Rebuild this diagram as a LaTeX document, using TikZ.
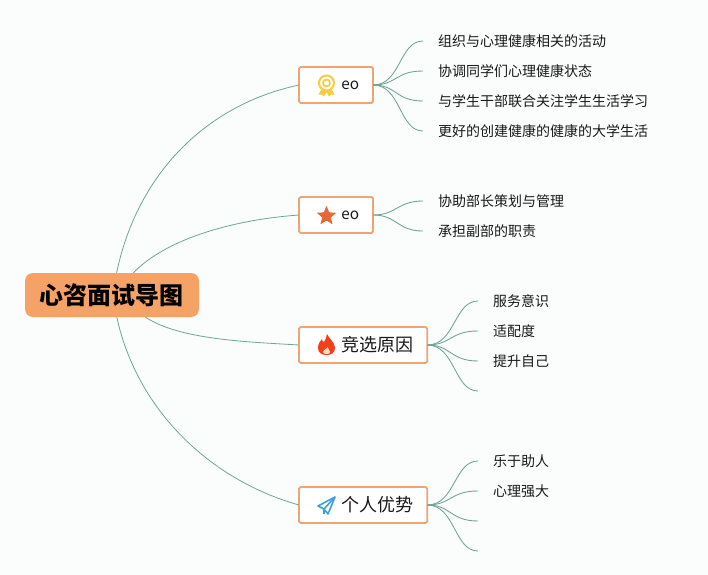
\documentclass[tikz,border=0pt]{standalone}
\usepackage{fontspec}
\setmainfont{Noto Sans CJK SC}
\usepackage{xcolor}
\usetikzlibrary{shapes.geometric}
\definecolor{pagebg}{HTML}{FBFCFC}
\definecolor{rootfill}{HTML}{F5A266}
\definecolor{boxline}{HTML}{F0A472}
\definecolor{linkgreen}{HTML}{6FA596}
\definecolor{medalgold}{HTML}{F8CC3C}
\definecolor{staricon}{HTML}{E5683A}
\definecolor{flamered}{HTML}{F2401B}
\definecolor{planeblue}{HTML}{3F9FE0}
\tikzset{
    rootbox/.style={fill=rootfill, rounded corners=6pt, minimum height=33pt, inner xsep=11.25pt, inner ysep=0pt, font=\fontsize{18}{18}\selectfont\bfseries, text=black},
    branchbox/.style={draw=boxline, fill=white, line width=1.4pt, rounded corners=1.2pt, anchor=west, minimum height=27pt, inner xsep=10.5pt, inner ysep=0pt, outer sep=0pt, text=black!90},
    smallbranch/.style={branchbox, font=\fontsize{11.5}{11.5}\selectfont},
    bigbranch/.style={branchbox, font=\fontsize{13.5}{13.5}\selectfont},
    leafnode/.style={anchor=west, inner xsep=11.25pt, inner ysep=0pt, outer sep=0pt, font=\fontsize{10.5}{10.5}\selectfont, text=black!90},
    rootlink/.style={draw=linkgreen, line width=0.6pt},
    leaflink/.style={draw=linkgreen, line width=0.65pt}
}
\newcommand{\iconpad}{\hspace*{21.2pt}}
\begin{document}
\begin{tikzpicture}[x=0.75pt, y=-0.75pt]
    \fill[pagebg] (0,0) rectangle (708,575);

    % Root
    \node[rootbox] (root) at (112,295) {心咨面试导图};

    % Branches
    \node[smallbranch] (award) at (299,85) {\iconpad eo};
    \node[smallbranch] (star) at (299,215) {\iconpad eo};
    \node[bigbranch] (reason) at (299,345) {\iconpad 竞选原因};
    \node[bigbranch] (merit) at (299,505) {\iconpad 个人优势};

    % Leaves
    \node[leafnode] (award1) at (423,41) {组织与心理健康相关的活动};
    \node[leafnode] (award2) at (423,71) {协调同学们心理健康状态};
    \node[leafnode] (award3) at (423,101) {与学生干部联合关注学生生活学习};
    \node[leafnode] (award4) at (423,131) {更好的创建健康的健康的大学生活};
    \node[leafnode] (star1) at (423,201) {协助部长策划与管理};
    \node[leafnode] (star2) at (423,231) {承担副部的职责};
    \node[leafnode] (reason1) at (478,301) {服务意识};
    \node[leafnode] (reason2) at (478,331) {适配度};
    \node[leafnode] (reason3) at (478,361) {提升自己};
    \coordinate (reason4) at (478,391);
    \node[leafnode] (merit1) at (478,461) {乐于助人};
    \node[leafnode] (merit2) at (478,491) {心理强大};
    \coordinate (merit3) at (478,521);
    \coordinate (merit4) at (478,551);

    % Root links
    \draw[rootlink] (root) .. controls (137,175) and (205,105) .. (award.west);
    \draw[rootlink] (root) .. controls (165,240) and (230,220) .. (star.west);
    \draw[rootlink] (root) .. controls (180,340) and (250,342) .. (reason.west);
    \draw[rootlink] (root) .. controls (137,410) and (210,480) .. (merit.west);

    % Leaf links
    \draw[leaflink] (award.east) .. controls +(28,0) and +(-24,0) .. (award1.west);
    \draw[leaflink] (award.east) .. controls +(24,0) and +(-28,0) .. (award2.west);
    \draw[leaflink] (award.east) .. controls +(24,0) and +(-28,0) .. (award3.west);
    \draw[leaflink] (award.east) .. controls +(28,0) and +(-24,0) .. (award4.west);
    \draw[leaflink] (star.east) .. controls +(24,0) and +(-26,0) .. (star1.west);
    \draw[leaflink] (star.east) .. controls +(24,0) and +(-26,0) .. (star2.west);
    \draw[leaflink] (reason.east) .. controls +(28,0) and +(-24,0) .. (reason1.west);
    \draw[leaflink] (reason.east) .. controls +(24,0) and +(-28,0) .. (reason2.west);
    \draw[leaflink] (reason.east) .. controls +(24,0) and +(-28,0) .. (reason3.west);
    \draw[leaflink] (reason.east) .. controls +(28,0) and +(-24,0) .. (reason4);
    \draw[leaflink] (merit.east) .. controls +(28,0) and +(-24,0) .. (merit1.west);
    \draw[leaflink] (merit.east) .. controls +(24,0) and +(-28,0) .. (merit2.west);
    \draw[leaflink] (merit.east) .. controls +(24,0) and +(-28,0) .. (merit3);
    \draw[leaflink] (merit.east) .. controls +(28,0) and +(-24,0) .. (merit4);

    % Medal icon
    \begin{scope}[shift={(award.west)}]
        \fill[medalgold] (22,5) -- (19.5,9.5) -- (23,9.5) -- (25,11.5) -- (27.5,7) -- (30,11.5) -- (32,9.5) -- (35.5,9.5) -- (33,5) -- cycle;
        \draw[medalgold, line width=1.5pt, fill=white] (27.5,-2) circle (7.5);
        \draw[medalgold, line width=1.3pt] (27.5,-2) circle (3.5);
    \end{scope}

    % Star icon
    \node[star, star points=5, star point ratio=2.3, fill=staricon, rounded corners=0.5pt, inner sep=0pt, minimum size=15.5pt] (staricon) at ([shift={(27.5,1)}]star.west) {};

    % Flame icon
    \begin{scope}[shift={(reason.west)}]
        \fill[flamered] (28,-11) .. controls (30,-6) and (36,-3) .. (36,3) .. controls (36,8) and (32,10) .. (27.5,10) .. controls (23,10) and (19,8) .. (19,3) .. controls (19,-1) and (21,-4) .. (23,-6) .. controls (23,-4) and (24,-3) .. (25,-3) .. controls (26,-5) and (28,-8) .. (28,-11) -- cycle;
        \fill[orange!25!white] (28.5,2) .. controls (28.5,4) and (31,5) .. (31,7) .. controls (31,8.5) and (29.5,9) .. (27.5,9) .. controls (25.5,9) and (24,8.5) .. (24,7) .. controls (24,5) and (28,4) .. (28.5,2) -- cycle;
    \end{scope}

    % Plane icon
    \begin{scope}[shift={(merit.west)}]
        \draw[planeblue, line width=1.2pt, line join=round] (36,-8) -- (19,1) -- (25,4) -- (29,9) -- cycle;
        \draw[planeblue, line width=1.2pt, line join=round] (36,-8) -- (25,4) -- (25,9);
    \end{scope}
\end{tikzpicture}
\end{document}
